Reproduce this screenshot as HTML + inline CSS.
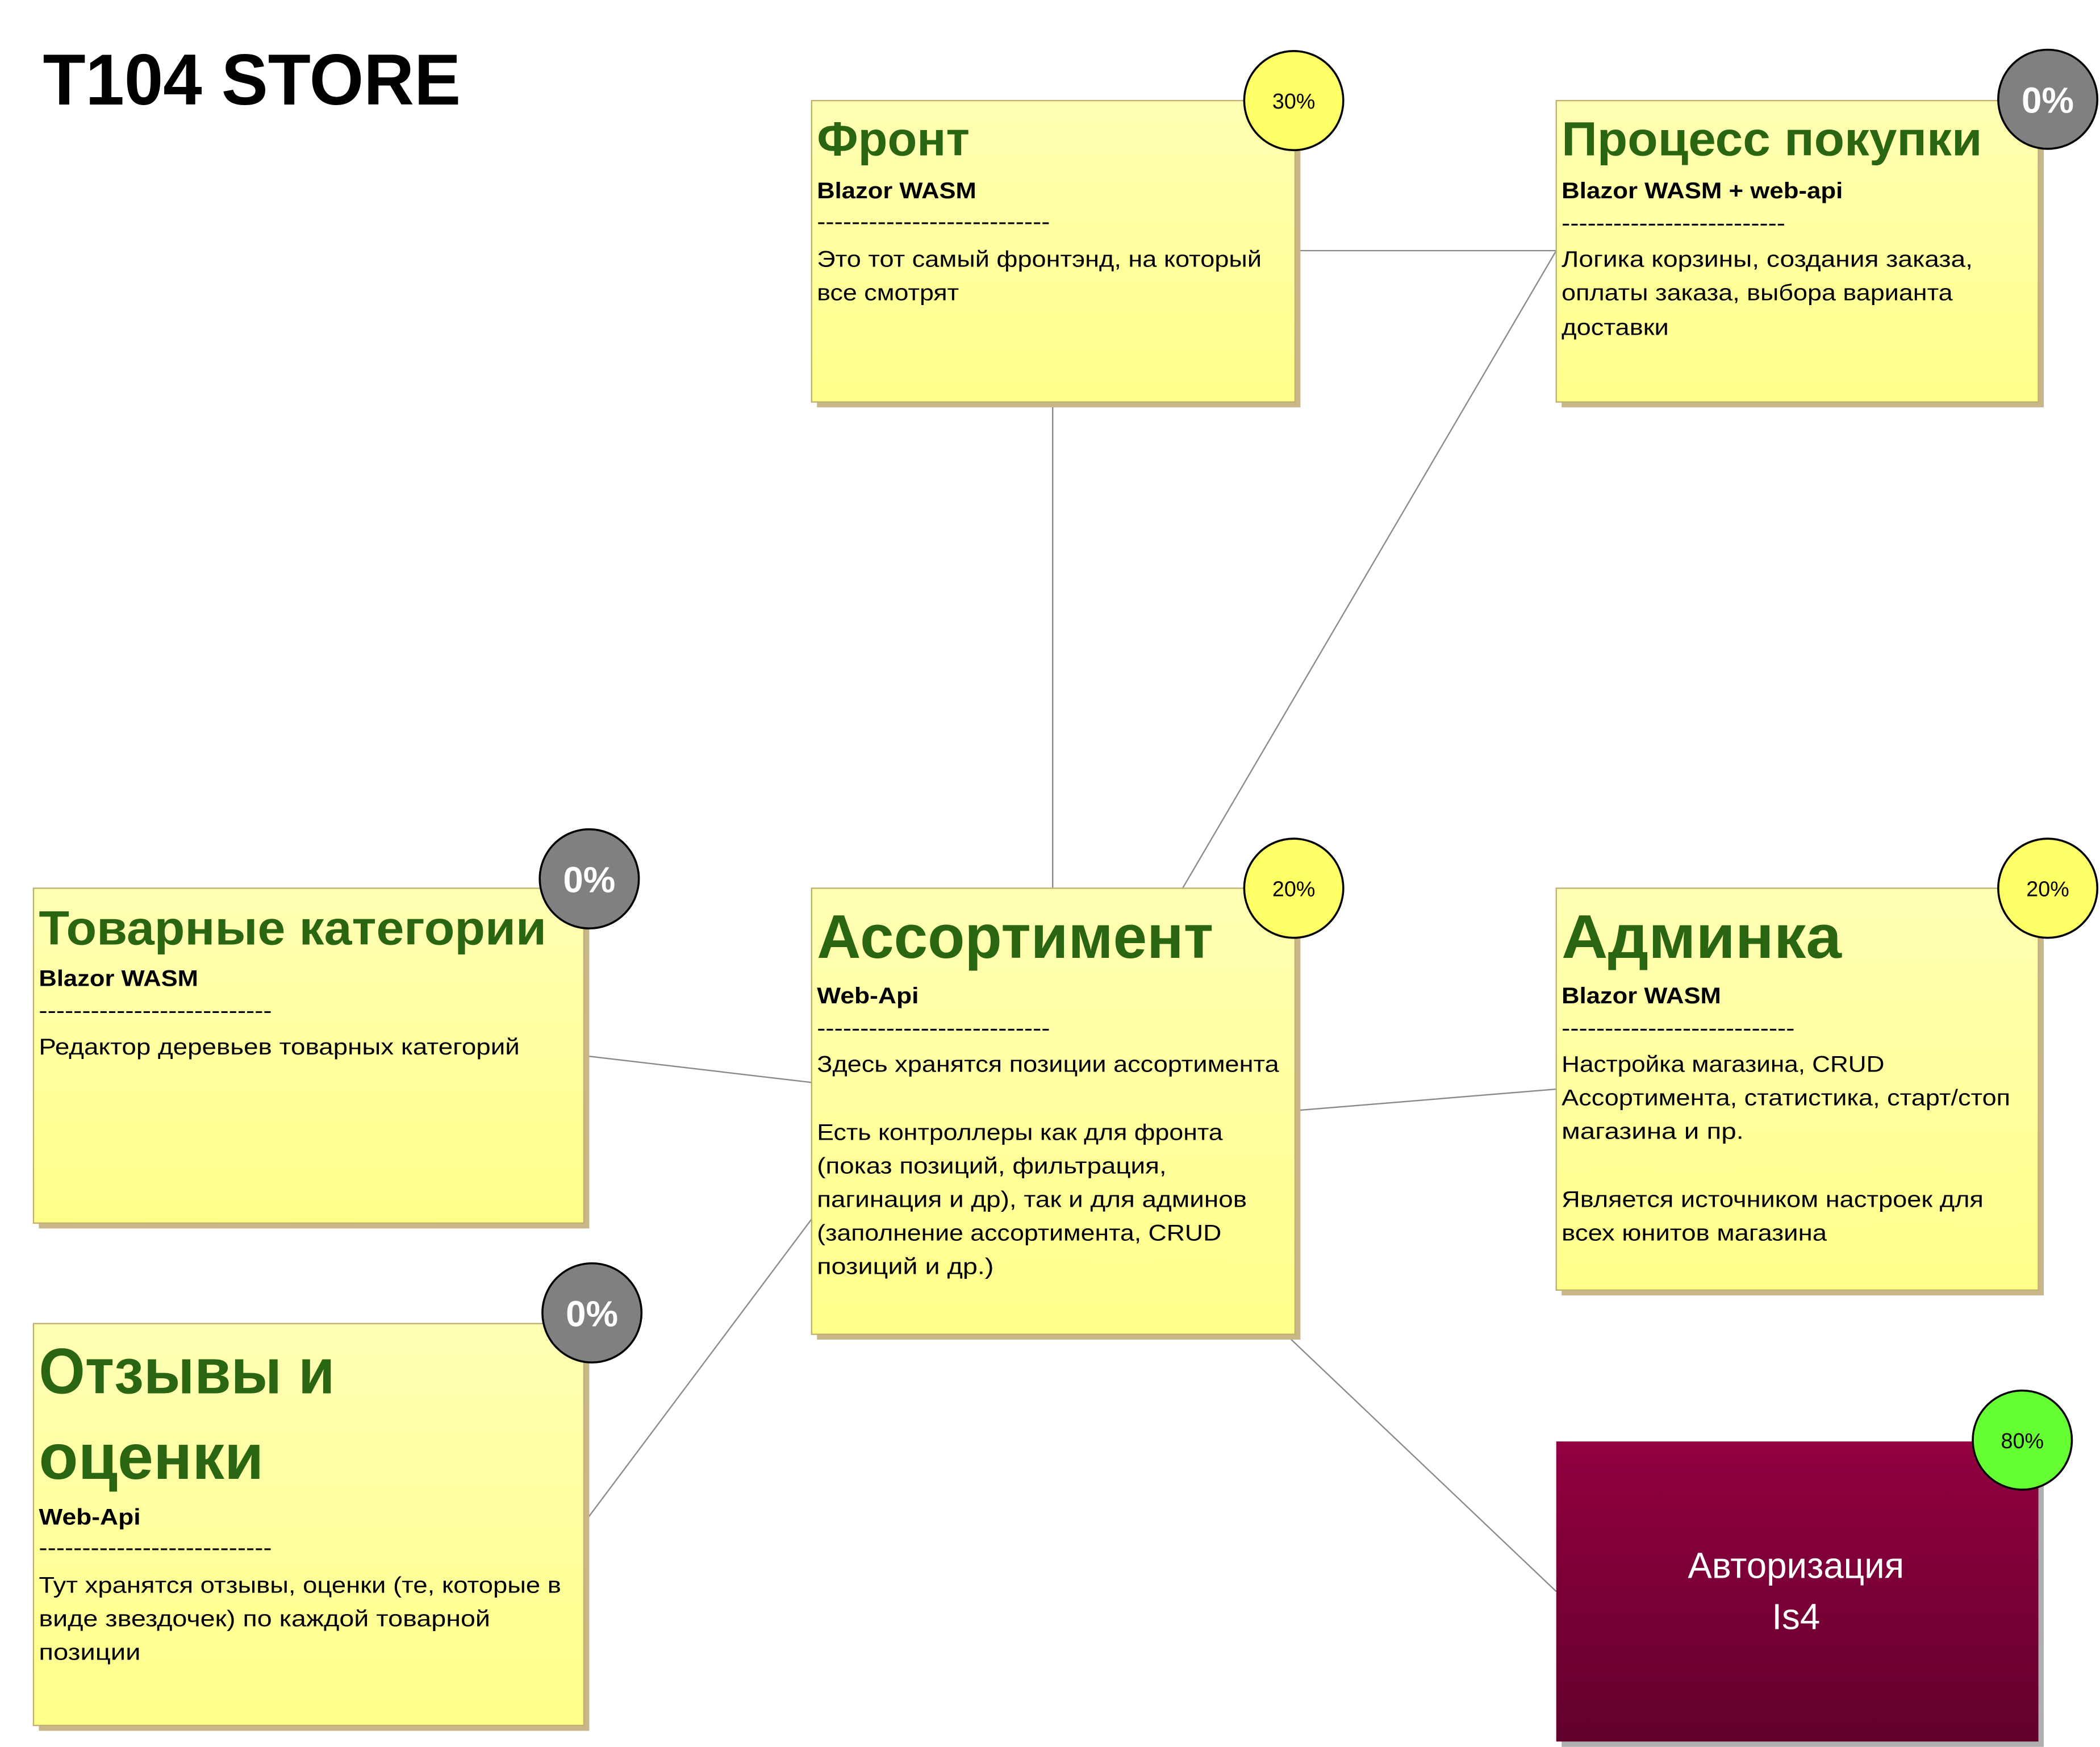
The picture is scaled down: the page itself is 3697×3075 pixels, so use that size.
<!DOCTYPE html>
<html><head><meta charset="utf-8"><style>
html,body{margin:0;padding:0;background:#fff;}
svg{display:block;}
text{font-family:"Liberation Sans","DejaVu Sans",sans-serif;}
.t{fill:#2a6511;font-weight:bold;}
.s{font-weight:bold;font-size:17px;fill:#000;}
.b{font-size:17px;fill:#000;}
.p{font-size:16px;fill:#000;text-anchor:middle;}
</style></head><body>
<svg width="3697" height="3075" viewBox="0 0 1568 1304" xmlns="http://www.w3.org/2000/svg">
<defs>
<linearGradient id="y" x1="0" y1="0" x2="0" y2="1"><stop offset="0" stop-color="#ffffb4"/><stop offset="1" stop-color="#ffff8a"/></linearGradient>
<linearGradient id="r" x1="0" y1="0" x2="0" y2="1"><stop offset="0" stop-color="#930041"/><stop offset="1" stop-color="#62002b"/></linearGradient>
</defs>
<rect width="1568" height="1304" fill="#fff"/>
<g stroke="#8a8a8a" stroke-width="1" fill="none">
<line x1="786" y1="300" x2="786" y2="663"/>
<line x1="967" y1="187" x2="1162" y2="187"/>
<line x1="1162" y1="187" x2="883" y2="663"/>
<line x1="436" y1="788" x2="606" y2="808"/>
<line x1="967" y1="829" x2="1162" y2="813"/>
<line x1="436" y1="1137" x2="606" y2="910"/>
<line x1="960" y1="996" x2="1162" y2="1188"/>
</g>
<text x="32" y="78" font-size="54" font-weight="bold" textLength="312" lengthAdjust="spacingAndGlyphs">T104 STORE</text>

<!-- boxes -->
<g stroke="#c0b070" stroke-width="1">
<rect x="610" y="79" width="361" height="225" fill="#c9b78a" stroke="none"/>
<rect x="606" y="75" width="361" height="225" fill="url(#y)"/>
<rect x="1166" y="79" width="360" height="225" fill="#c9b78a" stroke="none"/>
<rect x="1162" y="75" width="360" height="225" fill="url(#y)"/>
<rect x="29" y="667" width="411" height="250" fill="#c9b78a" stroke="none"/>
<rect x="25" y="663" width="411" height="250" fill="url(#y)"/>
<rect x="610" y="667" width="361" height="333" fill="#c9b78a" stroke="none"/>
<rect x="606" y="663" width="361" height="333" fill="url(#y)"/>
<rect x="1166" y="667" width="360" height="300" fill="#c9b78a" stroke="none"/>
<rect x="1162" y="663" width="360" height="300" fill="url(#y)"/>
<rect x="29" y="992" width="411" height="300" fill="#c9b78a" stroke="none"/>
<rect x="25" y="988" width="411" height="300" fill="url(#y)"/>
<rect x="1166" y="1080" width="360" height="224" fill="#b0b0b0" stroke="none"/>
<rect x="1162" y="1076" width="360" height="224" fill="url(#r)" stroke="none"/>
</g>

<!-- Фронт -->
<text class="t" x="610" y="116" font-size="36" textLength="114" lengthAdjust="spacingAndGlyphs">Фронт</text>
<text class="s" x="610" y="148" textLength="119" lengthAdjust="spacingAndGlyphs">Blazor WASM</text>
<text class="b" x="610" y="171" textLength="174" lengthAdjust="spacingAndGlyphs">---------------------------</text>
<text class="b" x="610" y="199" textLength="332" lengthAdjust="spacingAndGlyphs">Это тот самый фронтэнд, на который</text>
<text class="b" x="610" y="224" textLength="106" lengthAdjust="spacingAndGlyphs">все смотрят</text>

<!-- Процесс -->
<text class="t" x="1166" y="116" font-size="36" textLength="314" lengthAdjust="spacingAndGlyphs">Процесс покупки</text>
<text class="s" x="1166" y="148" textLength="210" lengthAdjust="spacingAndGlyphs">Blazor WASM + web-api</text>
<text class="b" x="1166" y="172" textLength="167" lengthAdjust="spacingAndGlyphs">--------------------------</text>
<text class="b" x="1166" y="199" textLength="307" lengthAdjust="spacingAndGlyphs">Логика корзины, создания заказа,</text>
<text class="b" x="1166" y="224" textLength="292" lengthAdjust="spacingAndGlyphs">оплаты заказа, выбора варианта</text>
<text class="b" x="1166" y="250" textLength="80" lengthAdjust="spacingAndGlyphs">доставки</text>

<!-- Товарные -->
<text class="t" x="29" y="705" font-size="36" textLength="379" lengthAdjust="spacingAndGlyphs">Товарные категории</text>
<text class="s" x="29" y="736" textLength="119" lengthAdjust="spacingAndGlyphs">Blazor WASM</text>
<text class="b" x="29" y="760" textLength="174" lengthAdjust="spacingAndGlyphs">---------------------------</text>
<text class="b" x="29" y="787" textLength="359" lengthAdjust="spacingAndGlyphs">Редактор деревьев товарных категорий</text>

<!-- Ассортимент -->
<text class="t" x="610" y="715" font-size="46" textLength="296" lengthAdjust="spacingAndGlyphs">Ассортимент</text>
<text class="s" x="610" y="749" textLength="76" lengthAdjust="spacingAndGlyphs">Web-Api</text>
<text class="b" x="610" y="773" textLength="174" lengthAdjust="spacingAndGlyphs">---------------------------</text>
<text class="b" x="610" y="800" textLength="345" lengthAdjust="spacingAndGlyphs">Здесь хранятся позиции ассортимента</text>
<text class="b" x="610" y="851" textLength="303" lengthAdjust="spacingAndGlyphs">Есть контроллеры как для фронта</text>
<text class="b" x="610" y="876" textLength="261" lengthAdjust="spacingAndGlyphs">(показ позиций, фильтрация,</text>
<text class="b" x="610" y="901" textLength="321" lengthAdjust="spacingAndGlyphs">пагинация и др), так и для админов</text>
<text class="b" x="610" y="926" textLength="302" lengthAdjust="spacingAndGlyphs">(заполнение ассортимента, CRUD</text>
<text class="b" x="610" y="951" textLength="132" lengthAdjust="spacingAndGlyphs">позиций и др.)</text>

<!-- Админка -->
<text class="t" x="1166" y="715" font-size="46" textLength="209" lengthAdjust="spacingAndGlyphs">Админка</text>
<text class="s" x="1166" y="749" textLength="119" lengthAdjust="spacingAndGlyphs">Blazor WASM</text>
<text class="b" x="1166" y="773" textLength="174" lengthAdjust="spacingAndGlyphs">---------------------------</text>
<text class="b" x="1166" y="800" textLength="241" lengthAdjust="spacingAndGlyphs">Настройка магазина, CRUD</text>
<text class="b" x="1166" y="825" textLength="335" lengthAdjust="spacingAndGlyphs">Ассортимента, статистика, старт/стоп</text>
<text class="b" x="1166" y="850" textLength="136" lengthAdjust="spacingAndGlyphs">магазина  и пр.</text>
<text class="b" x="1166" y="901" textLength="315" lengthAdjust="spacingAndGlyphs">Является источником настроек для</text>
<text class="b" x="1166" y="926" textLength="198" lengthAdjust="spacingAndGlyphs">всех юнитов магазина</text>

<!-- Отзывы -->
<text class="t" x="29" y="1040" font-size="48" textLength="221" lengthAdjust="spacingAndGlyphs">Отзывы и</text>
<text class="t" x="29" y="1104" font-size="48" textLength="168" lengthAdjust="spacingAndGlyphs">оценки</text>
<text class="s" x="29" y="1138" textLength="76" lengthAdjust="spacingAndGlyphs">Web-Api</text>
<text class="b" x="29" y="1161" textLength="174" lengthAdjust="spacingAndGlyphs">---------------------------</text>
<text class="b" x="29" y="1189" textLength="390" lengthAdjust="spacingAndGlyphs">Тут хранятся отзывы, оценки (те, которые в</text>
<text class="b" x="29" y="1214" textLength="337" lengthAdjust="spacingAndGlyphs">виде звездочек) по каждой товарной</text>
<text class="b" x="29" y="1239" textLength="76" lengthAdjust="spacingAndGlyphs">позиции</text>

<!-- Авторизация -->
<text x="1341" y="1178" font-size="27" fill="#fff" text-anchor="middle">Авторизация</text>
<text x="1341" y="1216" font-size="27" fill="#fff" text-anchor="middle">Is4</text>

<!-- circles -->
<g stroke="#000" stroke-width="1.5">
<circle cx="966" cy="75" r="37" fill="#ffff66"/>
<circle cx="1529" cy="74" r="37" fill="#808080"/>
<circle cx="440" cy="656" r="37" fill="#808080"/>
<circle cx="966" cy="663" r="37" fill="#ffff66"/>
<circle cx="1529" cy="663" r="37" fill="#ffff66"/>
<circle cx="442" cy="980" r="37" fill="#808080"/>
<circle cx="1510" cy="1075" r="37" fill="#66ff33"/>
</g>
<text class="p" x="966" y="81">30%</text>
<text x="1529" y="84" font-size="27" font-weight="bold" fill="#fff" text-anchor="middle">0%</text>
<text x="440" y="666" font-size="27" font-weight="bold" fill="#fff" text-anchor="middle">0%</text>
<text class="p" x="966" y="669">20%</text>
<text class="p" x="1529" y="669">20%</text>
<text x="442" y="990" font-size="27" font-weight="bold" fill="#fff" text-anchor="middle">0%</text>
<text class="p" x="1510" y="1081">80%</text>
</svg>
</body></html>
